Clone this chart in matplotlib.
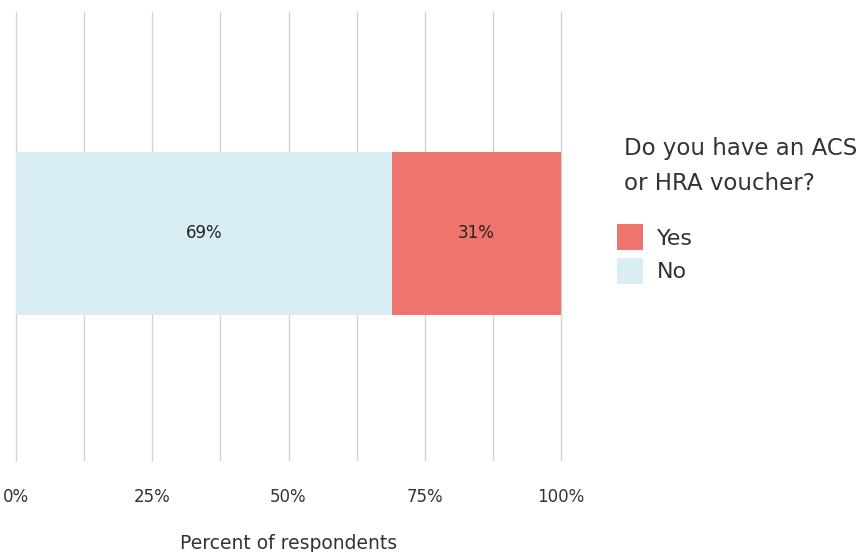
import matplotlib
matplotlib.use("Agg")
import matplotlib.pyplot as plt
from matplotlib.ticker import MultipleLocator

categories = [""]
no_vals = [69]
yes_vals = [31]
series_labels = ["Yes", "No"]
tick_values = [0, 25, 50, 75, 100]
tick_labels = ["0%", "25%", "50%", "75%", "100%"]

YES_C = "#ee746d"
NO_C = "#d9eef4"
TXT = "#333333"

plt.rcParams['font.family'] = ['DejaVu Sans']

fig = plt.figure(figsize=(8.64, 5.52), dpi=100)
ax = fig.add_axes([16/864, 1-460/552, (561-16)/864, (460-12)/552])

b_no = ax.barh(categories, no_vals, height=0.364, color=NO_C, label="No", zorder=2)
b_yes = ax.barh(categories, yes_vals, left=no_vals, height=0.364, color=YES_C, label="Yes", zorder=2)

for bars, vals in ((b_no, no_vals), (b_yes, yes_vals)):
    for r, v in zip(bars, vals):
        ax.text(r.get_x() + r.get_width()/2, r.get_y() + r.get_height()/2, f"{v}%",
                ha="center", va="center", fontsize=12, color="#222222", zorder=3)

ax.set_xlim(0, 100)
ax.set_ylim(-0.5056, 0.4944)
ax.set_xticks(tick_values)
ax.set_xticklabels(tick_labels, fontsize=12, color=TXT)
ax.xaxis.set_minor_locator(MultipleLocator(12.5))
ax.grid(True, axis="x", which="both", color="#d4d4d4", linewidth=1, zorder=0)
for t in ax.xaxis.get_minor_ticks() + ax.xaxis.get_major_ticks():
    t.gridline.set_clip_on(False)
ax.tick_params(axis="x", which="both", length=0, pad=20)
ax.set_yticks([])
for s in ax.spines.values():
    s.set_visible(False)
ax.set_xlabel("Percent of respondents", fontsize=13.5, color=TXT, labelpad=20)

fig.text(624/864, 1-137/552, "Do you have an ACS\nor HRA voucher?", fontsize=16.5,
         color=TXT, ha="left", va="top", linespacing=1.68)

handles = [b_yes, b_no]
leg = fig.legend(handles, series_labels,
                 loc="upper left", bbox_to_anchor=(617/864, 1-224/552),
                 frameon=False, fontsize=16, borderpad=0, borderaxespad=0,
                 handlelength=1.17, handleheight=1.45, handletextpad=0.62,
                 labelspacing=0.33, labelcolor=TXT)

fig.savefig("out.png", dpi=100)
